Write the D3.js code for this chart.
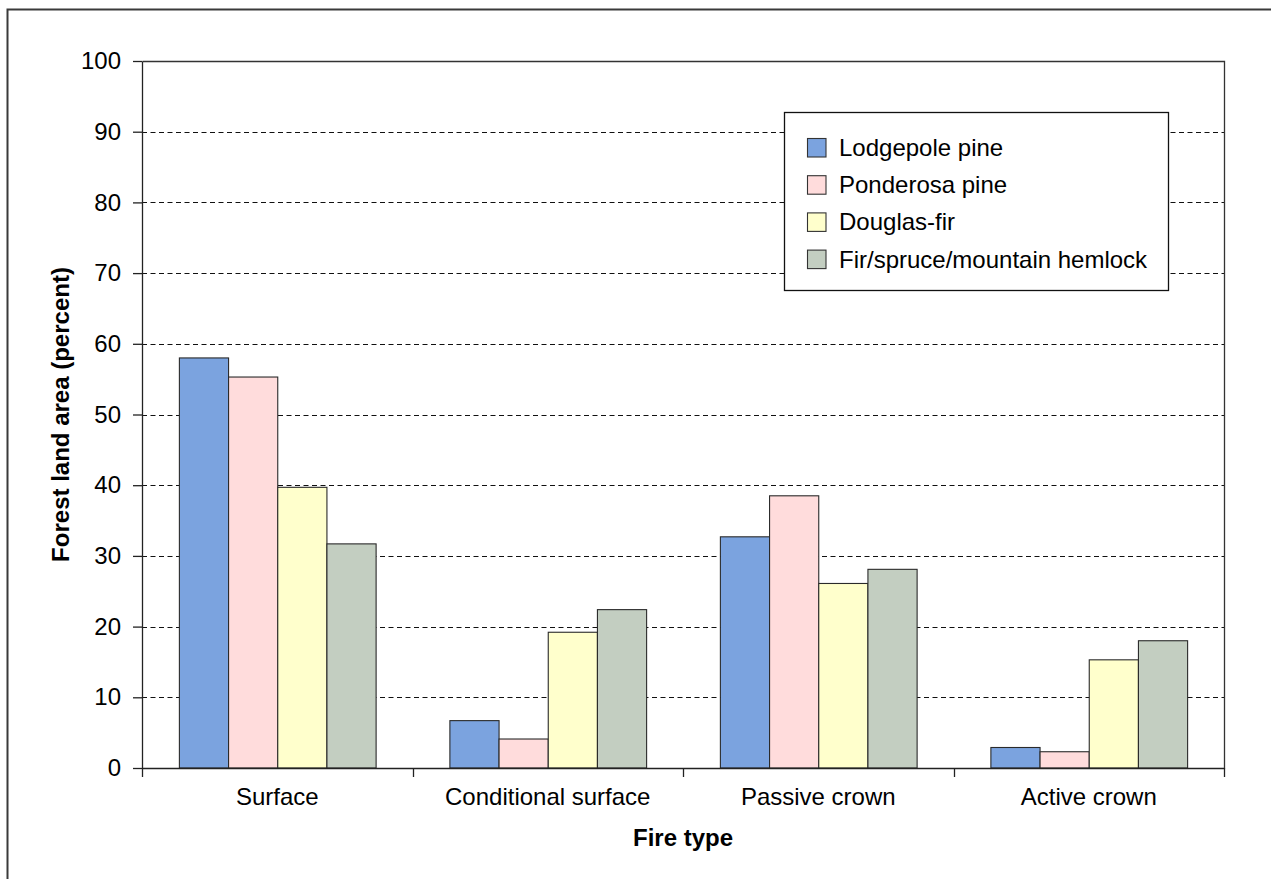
<!DOCTYPE html>
<html>
<head>
<meta charset="utf-8">
<script src="https://cdn.jsdelivr.net/npm/d3@7"></script>
<style>
  html, body { margin: 0; padding: 0; background: #fff; }
  svg { display: block; font-family: "Liberation Sans", Arial, sans-serif; }
</style>
</head>
<body>
<svg id="chart" width="1271" height="879"></svg>
<script>
// ---- Data ----
const categories = ["Surface", "Conditional surface", "Passive crown", "Active crown"];
const seriesNames = ["Lodgepole pine", "Ponderosa pine", "Douglas-fir", "Fir/spruce/mountain hemlock"];
const lodgepolePine = [58.0, 6.7, 32.7, 2.9];
const ponderosaPine = [55.3, 4.1, 38.5, 2.3];
const douglasFir = [39.7, 19.2, 26.1, 15.3];
const firSpruceHemlock = [31.7, 22.4, 28.1, 18.0];
const yTicks = [0, 10, 20, 30, 40, 50, 60, 70, 80, 90, 100];
const seriesColors = ["#7BA3DF", "#FFDCDC", "#FFFFCC", "#C3CEC1"];
const yTitle = "Forest land area (percent)";
const xTitle = "Fire type";

const seriesValues = [lodgepolePine, ponderosaPine, douglasFir, firSpruceHemlock];

const svg = d3.select("#chart");
const W = 1271, H = 879;
const plot = { left: 142, right: 1224, top: 61, bottom: 768 };

// outer frame
svg.append("rect")
  .attr("x", 7.5).attr("y", 9.5)
  .attr("width", W + 20).attr("height", H + 20)
  .attr("fill", "none").attr("stroke", "#3a3a3a").attr("stroke-width", 2);

const x0 = d3.scaleBand().domain(categories).range([plot.left, plot.right]).padding(0);
const x1 = d3.scaleBand().domain(seriesNames).range([0, x0.bandwidth()])
  .paddingInner(0).paddingOuter(0.75);
const y = d3.scaleLinear().domain([0, 100]).range([plot.bottom, plot.top]);

// gridlines
svg.append("g")
  .selectAll("line")
  .data(yTicks.filter(t => t > 0 && t < 100))
  .join("line")
  .attr("x1", plot.left).attr("x2", plot.right)
  .attr("y1", d => Math.round(y(d)) + 0.5).attr("y2", d => Math.round(y(d)) + 0.5)
  .attr("stroke", "#111").attr("stroke-width", 1)
  .attr("stroke-dasharray", "5,3.5");

// plot area top/right border
svg.append("path")
  .attr("d", `M${plot.left + 0.5},${plot.top + 0.5}H${plot.right + 0.5}V${plot.bottom + 0.5}`)
  .attr("fill", "none").attr("stroke", "#333").attr("stroke-width", 1.3);

// bars
const groups = svg.append("g").selectAll("g")
  .data(categories)
  .join("g")
  .attr("transform", d => `translate(${x0(d)},0)`);

groups.selectAll("rect")
  .data((c, ci) => seriesNames.map((s, si) => ({ s, si, v: seriesValues[si][ci] })))
  .join("rect")
  .attr("x", d => x1(d.s) + 0.5)
  .attr("width", x1.bandwidth())
  .attr("y", d => y(d.v))
  .attr("height", d => y(0) - y(d.v))
  .attr("fill", d => seriesColors[d.si])
  .attr("stroke", "#2a2a2a").attr("stroke-width", 1.1);

// y axis
const yAxis = svg.append("g")
  .attr("transform", `translate(${plot.left},0)`)
  .call(d3.axisLeft(y).tickValues(yTicks).tickFormat(d3.format("d"))
    .tickSize(9).tickSizeOuter(0).tickPadding(12));
yAxis.selectAll("text").attr("font-size", 24).attr("fill", "#000")
  .attr("font-family", "'Liberation Sans', Arial, sans-serif");
yAxis.selectAll("line, path").attr("stroke", "#222").attr("stroke-width", 1.3);

// x axis
const xAxisG = svg.append("g").attr("transform", `translate(0,${plot.bottom})`);
xAxisG.append("line")
  .attr("x1", plot.left).attr("x2", plot.right)
  .attr("y1", 0.5).attr("y2", 0.5)
  .attr("stroke", "#222").attr("stroke-width", 1.3);
const boundaries = categories.map(c => x0(c)).concat([plot.right]);
xAxisG.selectAll("line.tick")
  .data(boundaries)
  .join("line").attr("class", "tick")
  .attr("x1", d => Math.round(d) + 0.5).attr("x2", d => Math.round(d) + 0.5)
  .attr("y1", 0).attr("y2", 9)
  .attr("stroke", "#222").attr("stroke-width", 1.3);
xAxisG.selectAll("text.cat")
  .data(categories)
  .join("text").attr("class", "cat")
  .attr("x", d => x0(d) + x0.bandwidth() / 2)
  .attr("y", 36.5)
  .attr("text-anchor", "middle")
  .attr("font-size", 24).attr("fill", "#000")
  .text(d => d);

// axis titles
svg.append("text")
  .attr("x", (plot.left + plot.right) / 2)
  .attr("y", 846)
  .attr("text-anchor", "middle")
  .attr("font-size", 24).attr("font-weight", "bold")
  .text(xTitle);

svg.append("text")
  .attr("transform", `translate(69,${(plot.top + plot.bottom) / 2}) rotate(-90)`)
  .attr("text-anchor", "middle")
  .attr("font-size", 24).attr("font-weight", "bold")
  .text(yTitle);

// legend
const legend = svg.append("g");
legend.append("rect")
  .attr("x", 784.5).attr("y", 112.5)
  .attr("width", 384).attr("height", 178)
  .attr("fill", "#fff").attr("stroke", "#111").attr("stroke-width", 1.3);
const items = legend.selectAll("g.item")
  .data(seriesNames)
  .join("g").attr("class", "item")
  .attr("transform", (d, i) => `translate(0,${138 + i * 37.2})`);
items.append("rect")
  .attr("x", 807.5).attr("y", 0.5)
  .attr("width", 18.5).attr("height", 18.5)
  .attr("fill", (d, i) => seriesColors[i])
  .attr("stroke", "#333").attr("stroke-width", 1.1);
items.append("text")
  .attr("x", 839).attr("y", 18)
  .attr("font-size", 24).attr("fill", "#000")
  .text(d => d);
</script>
</body>
</html>
